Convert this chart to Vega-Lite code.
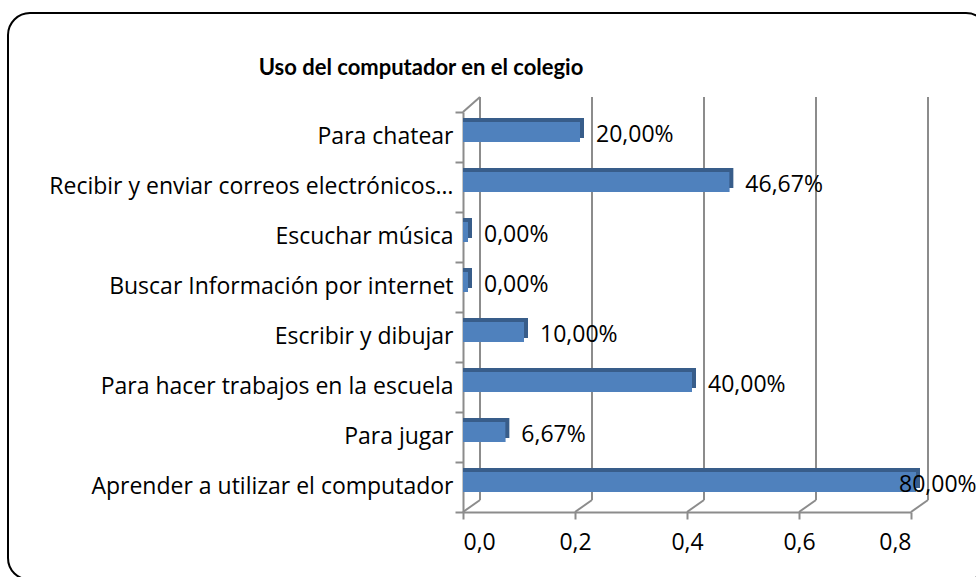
{
  "$schema": "https://vega.github.io/schema/vega-lite/v6.json",
  "width": 980,
  "height": 567,
  "autosize": {"type": "none"},
  "padding": {"left": 8, "top": 13, "right": 0, "bottom": 0},
  "title": {
    "text": "Uso del computador en el colegio",
    "anchor": "middle",
    "dx": -77,
    "dy": 99,
    "baseline": "alphabetic",
    "font": "Lato",
    "fontSize": 22,
    "fontWeight": "bold",
    "color": "black"
  },
  "datasets": {
    "uso": [
      {"categoria": "Para chatear", "valor": 0.2},
      {"categoria": "Recibir y enviar correos electrónicos…", "valor": 0.4667},
      {"categoria": "Escuchar música", "valor": 0},
      {"categoria": "Buscar Información por internet", "valor": 0},
      {"categoria": "Escribir y dibujar", "valor": 0.1},
      {"categoria": "Para hacer trabajos en la escuela", "valor": 0.4},
      {"categoria": "Para jugar", "valor": 0.0667},
      {"categoria": "Aprender a utilizar el computador", "valor": 0.8}
    ],
    "grid": [{"g": 0}, {"g": 0.2}, {"g": 0.4}, {"g": 0.6}, {"g": 0.8}]
  },
  "layer": [
    {
      "data": {"name": "uso"},
      "mark": {"type": "bar", "height": 20, "color": "#4F81BD", "xOffset": 5, "x2Offset": 5, "yOffset": -5},
      "encoding": {
        "x": {
          "field": "valor",
          "type": "quantitative",
          "stack": null,
          "scale": {"domain": [0, 0.8], "range": [455, 903], "nice": false, "zero": true},
          "axis": {
            "orient": "bottom",
            "offset": -68,
            "values": [0, 0.2, 0.4, 0.6, 0.8],
            "format": ".1f",
            "title": null,
            "grid": false,
            "tickSize": 7,
            "tickColor": "#8c8c8c",
            "tickWidth": 2,
            "domainColor": "#8c8c8c",
            "domainWidth": 2,
            "labelFont": "Open Sans",
            "labelFontSize": 23,
            "labelColor": "black",
            "labelPadding": 12
          }
        },
        "y": {
          "field": "categoria",
          "type": "nominal",
          "sort": null,
          "scale": {
            "domain": ["Para chatear", "Recibir y enviar correos electrónicos…", "Escuchar música", "Buscar Información por internet", "Escribir y dibujar", "Para hacer trabajos en la escuela", "Para jugar", "Aprender a utilizar el computador"],
            "range": [99, 499],
            "paddingInner": 0,
            "paddingOuter": 0
          },
          "axis": {
            "orient": "left",
            "offset": -455,
            "title": null,
            "grid": false,
            "bandPosition": 1,
            "tickExtra": true,
            "labelOffset": 0,
            "tickSize": 8,
            "tickColor": "#8c8c8c",
            "tickWidth": 2,
            "domainColor": "#8c8c8c",
            "domainWidth": 2,
            "labelFont": "Open Sans",
            "labelFontSize": 23,
            "labelColor": "black",
            "labelPadding": 2,
            "labelLimit": 0
          }
        }
      }
    },
    {
      "data": {"name": "grid"},
      "mark": {"type": "rule", "color": "#8c8c8c", "strokeWidth": 2, "xOffset": 17, "yOffset": -40, "y2Offset": 13},
      "encoding": {
        "x": {"field": "g", "type": "quantitative"},
        "y": {"datum": "Para chatear", "type": "nominal"},
        "y2": {"datum": "Aprender a utilizar el computador"}
      }
    },
    {
      "data": {"name": "grid"},
      "mark": {"type": "rule", "color": "#8c8c8c", "strokeWidth": 2, "x2Offset": 17, "yOffset": 25, "y2Offset": 13},
      "encoding": {
        "x": {"field": "g", "type": "quantitative"},
        "x2": {"field": "g"},
        "y": {"datum": "Aprender a utilizar el computador", "type": "nominal"},
        "y2": {"datum": "Aprender a utilizar el computador"}
      }
    },
    {
      "data": {"values": [{}]},
      "mark": {"type": "rule", "color": "#8c8c8c", "strokeWidth": 2, "x2Offset": 17, "yOffset": -25, "y2Offset": -40},
      "encoding": {
        "x": {"datum": 0, "type": "quantitative"},
        "x2": {"datum": 0},
        "y": {"datum": "Para chatear", "type": "nominal"},
        "y2": {"datum": "Para chatear"}
      }
    },
    {
      "data": {"name": "uso"},
      "mark": {"type": "bar", "height": 20, "color": "#385D8A", "xOffset": 9, "x2Offset": 5, "yOffset": -9},
      "encoding": {
        "x": {"field": "valor", "type": "quantitative", "stack": null},
        "y": {"field": "categoria", "type": "nominal", "sort": null}
      }
    },
    {
      "data": {"name": "uso"},
      "mark": {"type": "bar", "height": 20, "color": "#4F81BD", "xOffset": 5, "x2Offset": 5, "yOffset": -5},
      "encoding": {
        "x": {"field": "valor", "type": "quantitative", "stack": null},
        "y": {"field": "categoria", "type": "nominal", "sort": null}
      }
    },
    {
      "data": {"name": "uso"},
      "transform": [{"filter": "datum.valor < 0.7"}],
      "mark": {"type": "text", "align": "left", "baseline": "middle", "dx": 21, "dy": -2, "font": "Open Sans", "fontSize": 23, "color": "black"},
      "encoding": {
        "x": {"field": "valor", "type": "quantitative"},
        "y": {"field": "categoria", "type": "nominal", "sort": null},
        "text": {"field": "valor", "type": "quantitative", "format": ".2%"}
      }
    },
    {
      "data": {"name": "uso"},
      "transform": [{"filter": "datum.valor >= 0.7"}],
      "mark": {"type": "text", "align": "left", "baseline": "middle", "dx": -12, "dy": -2, "font": "Open Sans", "fontSize": 23, "color": "black"},
      "encoding": {
        "x": {"field": "valor", "type": "quantitative"},
        "y": {"field": "categoria", "type": "nominal", "sort": null},
        "text": {"field": "valor", "type": "quantitative", "format": ".2%"}
      }
    }
  ],
  "config": {
    "background": "white",
    "view": {"stroke": "black", "strokeWidth": 2, "cornerRadius": 22, "fill": "white"},
    "locale": {
      "number": {"decimal": ",", "thousands": ".", "grouping": [3], "currency": ["", " €"]}
    }
  }
}
